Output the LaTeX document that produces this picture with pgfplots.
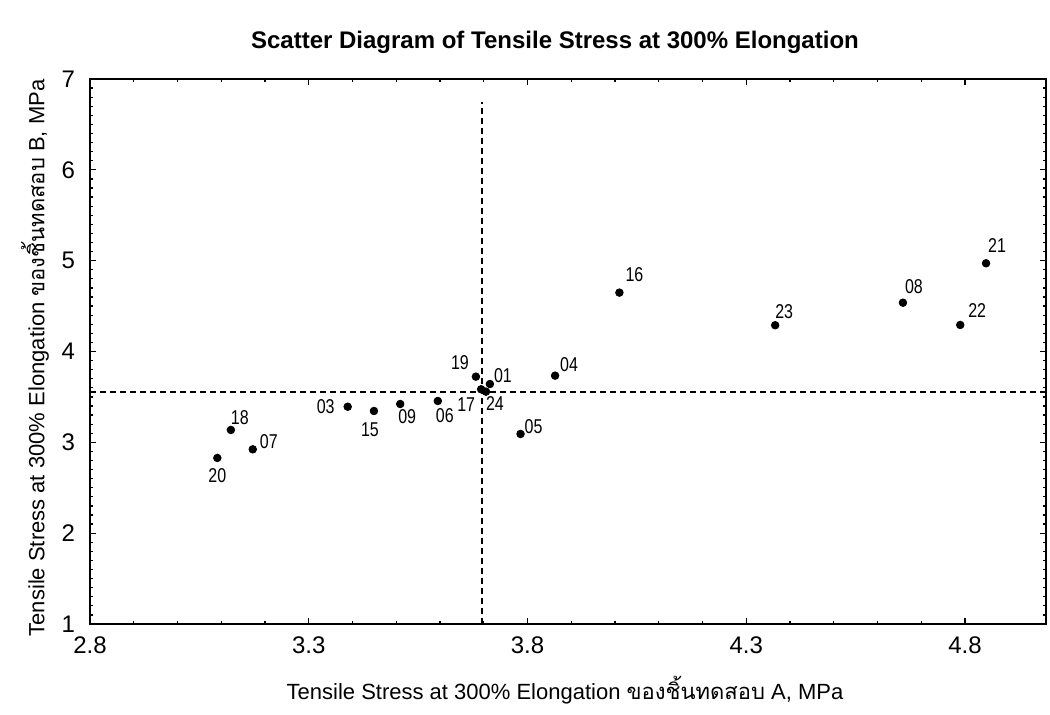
\documentclass[border=0pt]{standalone}
\usepackage{fontspec}
\setmainfont{Liberation Sans}
\newfontfamily\thaifont[Script=Thai]{Loma}
\newfontfamily\narrowfont[FakeStretch=0.8]{Liberation Sans}
\usepackage{pgfplots}
\pgfplotsset{compat=1.18}
\usepackage{pgfplotstable}

\pgfplotstableread{
x y lab dx dy
3.682 3.723 19 -8 7
3.714 3.642 01 6.5 4
3.694 3.584 17 -7.5 -7.5
3.705 3.558 24 4.5 -6
3.863 3.734 04 7 5.5
3.389 3.392 03 -11 0
3.449 3.345 15 -2 -9.5
3.509 3.422 09 3.5 -6.5
3.595 3.455 06 3.5 -7.5
3.122 3.136 18 4.5 6
3.172 2.923 07 8 4
3.091 2.828 20 0 -9
3.784 3.092 05 6.5 3.5
4.010 4.648 16 7.5 9
4.366 4.289 23 4.5 7
4.658 4.537 08 5.5 8
4.789 4.292 22 8.5 7
4.848 4.971 21 5.5 9
}\datatable

\begin{document}
\begin{tikzpicture}
\useasboundingbox (0,0) rectangle (525pt,357.5pt);
\begin{axis}[
  at={(45pt,45.5pt)}, anchor=south west,
  width=478pt, height=272.5pt, scale only axis,
  xmin=2.8, xmax=4.985, ymin=1, ymax=7,
  xtick={2.8,3.3,3.8,4.3,4.8},
  xticklabels={2.8,3.3,3.8,4.3,4.8},
  ytick={1,2,3,4,5,6,7},
  minor x tick num=4, minor y tick num=9,
  tick align=inside,
  major tick length=3pt, minor tick length=1.5pt,
  axis background/.style={draw=black, line width=1.4pt},
  axis line style={line width=1.4pt, black},
  every tick/.style={black, line width=0.6pt},
  ticklabel style={font=\fontsize{12}{12}\selectfont},
  /pgf/number format/assume math mode=true,
  xticklabel style={yshift=-3pt},
  yticklabel style={xshift=-4pt},
  clip=false,
]
\addplot[black, dash pattern=on 3pt off 2pt, line width=1pt] coordinates {(3.695,1) (3.695,6.75)};
\addplot[black, dash pattern=on 3pt off 2pt, line width=1pt] coordinates {(2.8,3.558) (4.985,3.558)};
\addplot[only marks, mark=*, mark size=1.9pt, black, line width=0.4pt,
  nodes near coords, point meta=explicit symbolic,
  visualization depends on={\thisrow{dx} \as \dx},
  visualization depends on={\thisrow{dy} \as \dy},
  every node near coord/.append style={anchor=center, xshift=\dx pt, yshift=\dy pt, font=\narrowfont\fontsize{10}{10}\selectfont, text=black, inner sep=0pt}
] table[x=x, y=y, meta=lab] {\datatable};
\end{axis}
\node[font=\bfseries\fontsize{12}{12}\selectfont] at (277.5pt,336.5pt) {Scatter Diagram of Tensile Stress at 300\% Elongation};
\node[font=\fontsize{11}{11}\selectfont] at (282.5pt,12.5pt) {Tensile Stress at 300\% Elongation {\thaifont ของชิ้นทดสอบ} A, MPa};
\node[font=\fontsize{11}{11}\selectfont, rotate=90] at (17.5pt,178.5pt) {Tensile Stress at 300\% Elongation {\thaifont ของชิ้นทดสอบ} B, MPa};
\end{tikzpicture}
\end{document}
